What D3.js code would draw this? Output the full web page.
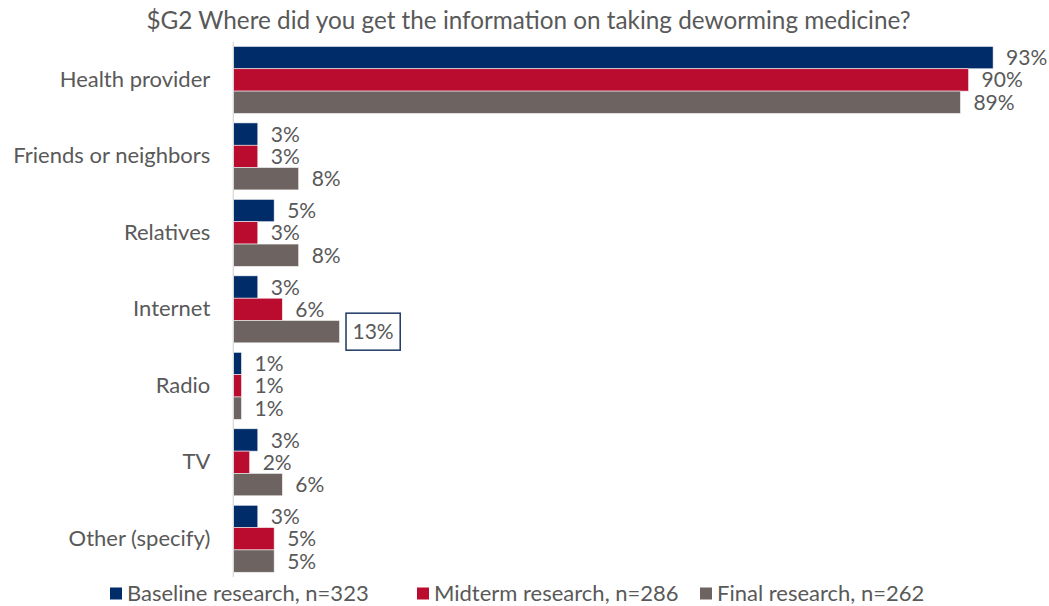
<!DOCTYPE html>
<html>
<head>
<meta charset="utf-8">
<script src="https://cdn.jsdelivr.net/npm/d3@7"></script>
<style>
  html, body { margin: 0; padding: 0; background: #fff; }
  svg { display: block; font-family: Lato, "Open Sans", sans-serif; }
</style>
</head>
<body>
<svg id="chart" width="1049" height="606"></svg>
<script>
// Survey answers: source of information on taking deworming medicine (%)
const categories = ["Health provider", "Friends or neighbors", "Relatives", "Internet", "Radio", "TV", "Other (specify)"];
const seriesNames = ["Baseline research, n=323", "Midterm research, n=286", "Final research, n=262"];
const baseline = [93, 3, 5, 3, 1, 3, 3];
const midterm  = [90, 3, 3, 6, 1, 2, 5];
const final    = [89, 8, 8, 13, 1, 6, 5];
const seriesColors = ["#002D6A", "#BA0C2F", "#6D6462"];
const highlighted = { category: "Internet", series: 2 };

const seriesValues = [baseline, midterm, final];
const rows = categories.map((c, i) => ({
  category: c,
  values: seriesValues.map((s, k) => ({ series: k, value: s[i] }))
}));

const svg = d3.select("#chart");
const textColor = "#595959";
const valueFont = 21;
const labelFont = 22;

const x = d3.scaleLinear().domain([0, 100]).range([233.3, 233.3 + 817]);
const y = d3.scaleBand().domain(categories).range([41.7, 577])
  .paddingInner(0.124).paddingOuter(0.062);
const ySub = d3.scaleBand().domain(d3.range(seriesNames.length)).range([0, y.bandwidth()]);

// Title
svg.append("text")
  .attr("x", 528.5).attr("y", 29)
  .attr("text-anchor", "middle")
  .attr("font-size", 24.3)
  .attr("fill", textColor)
  .text("$G2 Where did you get the information on taking deworming medicine?");

// Bars
const groups = svg.append("g").selectAll("g")
  .data(rows).join("g")
  .attr("transform", d => `translate(0,${y(d.category)})`);

groups.selectAll("rect")
  .data(d => d.values).join("rect")
  .attr("x", x(0))
  .attr("y", d => ySub(d.series))
  .attr("width", d => x(d.value) - x(0))
  .attr("height", ySub.bandwidth())
  .attr("fill", d => seriesColors[d.series])
  .attr("stroke", "#f2f2f2")
  .attr("stroke-width", 0.6);

// Value labels
groups.each(function (row) {
  const g = d3.select(this);
  row.values.forEach(d => {
    const lx = x(d.value) + 13;
    const ly = ySub(d.series) + ySub.bandwidth() / 2;
    const t = g.append("text")
      .attr("x", lx).attr("y", ly).attr("dy", "0.36em")
      .attr("font-size", valueFont)
      .attr("fill", textColor)
      .text(d.value + "%");
    if (row.category === highlighted.category && d.series === highlighted.series) {
      const bb = t.node().getBBox();
      g.append("rect")
        .attr("x", lx - 6.5).attr("y", ly - 18.5)
        .attr("width", bb.width + 13).attr("height", 37)
        .attr("fill", "none")
        .attr("stroke", "#1F3864")
        .attr("stroke-width", 1.5);
    }
  });
});

// Category axis
const yAxis = svg.append("g")
  .attr("transform", `translate(${x(0)},0)`)
  .call(d3.axisLeft(y).tickSize(0).tickPadding(23));
yAxis.select(".domain").attr("stroke", "#D9D9D9").attr("stroke-width", 1.3)
  .attr("d", `M0,${y.range()[0]}V${y.range()[1]}`);
yAxis.selectAll(".tick text")
  .attr("font-size", labelFont)
  .attr("font-family", "Lato, sans-serif")
  .attr("fill", textColor);

// Legend
const legendX = [110, 417, 700];
const legend = svg.append("g").selectAll("g")
  .data(seriesNames).join("g")
  .attr("transform", (d, i) => `translate(${legendX[i]},587.5)`);
legend.append("rect")
  .attr("width", 12).attr("height", 12)
  .attr("fill", (d, i) => seriesColors[i]);
legend.append("text")
  .attr("x", 17).attr("y", 6).attr("dy", "0.34em")
  .attr("font-size", labelFont)
  .attr("fill", textColor)
  .text(d => d);
</script>
</body>
</html>
